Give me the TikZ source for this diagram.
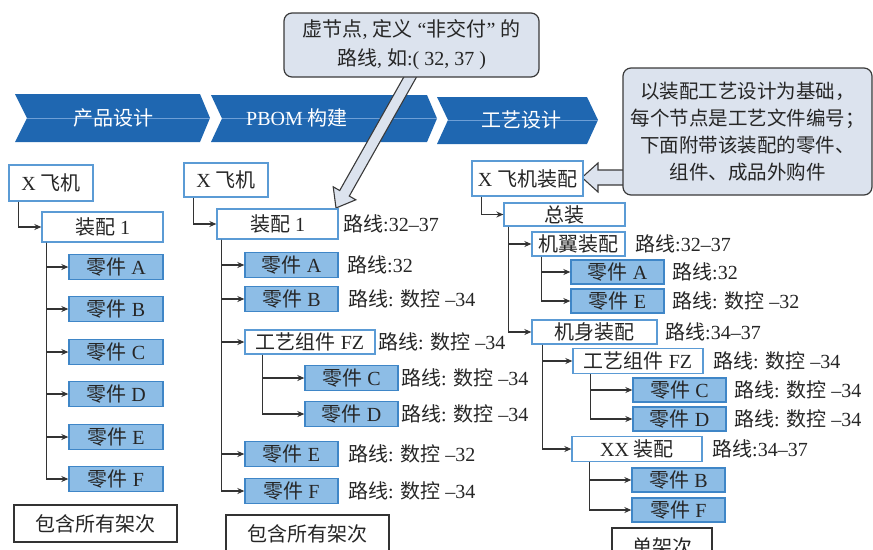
\documentclass[tikz,border=0pt]{standalone}
\usepackage{fontspec}
\setmainfont{Liberation Serif}
\newfontfamily\cjk{Noto Sans CJK SC}
\usetikzlibrary{arrows.meta}
\newcommand\zh[1]{{\cjk #1}}
\definecolor{chev}{HTML}{1F67B1}
\definecolor{chevline}{HTML}{6E9FD6}
\definecolor{boxblue}{HTML}{5B9BD5}
\definecolor{partfill}{HTML}{8DBDE6}
\definecolor{partdraw}{HTML}{3F86C7}
\definecolor{callfill}{HTML}{DCE3EE}
\definecolor{calldraw}{HTML}{3A3A3A}
\definecolor{txt}{HTML}{262626}
\definecolor{conn}{HTML}{333333}
\begin{document}
\begin{tikzpicture}[x=1pt,y=-1pt,
  font=\fontsize{20}{24}\selectfont,
  sz/.style 2 args={minimum width=#1pt, minimum height=#2pt},
  wbox/.style={draw=boxblue, line width=1.3pt, fill=white, inner sep=0pt, text=txt},
  pbox/.style={draw=partdraw, line width=1.3pt, fill=partfill, inner sep=0pt, text=txt},
  kbox/.style={draw=black!80, line width=1.2pt, fill=white, inner sep=0pt, text=txt},
  lbl/.style={anchor=west, inner sep=0pt, text=txt},
  arr/.style={draw=conn, line width=1.2pt, -{Stealth[length=7pt,width=6pt]}},
  chevron/.style={fill=chev},
  chevtext/.style={text=white, inner sep=0pt},
  callout/.style={draw=calldraw, fill=callfill, line width=1.2pt, rounded corners=8pt, inner sep=0pt, text=txt, align=center},
  hollow/.style={draw=calldraw, fill=callfill, line width=1.1pt, line join=miter},
]
\useasboundingbox (0,0) rectangle (873,549);
\clip (0,0) rectangle (873,549);

% chevrons
\fill[chevron] (15,94) -- (200,94) -- (210,118) -- (200,142) -- (15,142) -- (27,118) -- cycle;
\fill[chevron] (211,95) -- (427,95) -- (437,118.5) -- (427,142) -- (211,142) -- (222,118.5) -- cycle;
\fill[chevron] (437,97) -- (587,97) -- (598,120) -- (587,144) -- (437,144) -- (448,120) -- cycle;
\draw[chevline, line width=0.6pt] (27,118) -- (210,118);
\draw[chevline, line width=0.6pt] (222,118.5) -- (437,118.5);
\draw[chevline, line width=0.6pt] (448,120) -- (598,120);
\node[chevtext] (ch1) at (113,118) {\zh{产品设计}};
\node[chevtext] (ch2) at (297,118) {PBOM \zh{构建}};
\node[chevtext] (ch3) at (521,120) {\zh{工艺设计}};

% callout 1 with hollow arrow
\filldraw[hollow] (408.2,69.25) -- (339.7,190.55) -- (333.2,186.8) -- (336,208) -- (355.8,199.8) -- (349.3,196.05) -- (417.8,74.75) -- cycle;
\node[callout, sz={255}{64}, font=\fontsize{20}{29}\selectfont] (call1) at (411.5,45)
  {\zh{虚节点}, \zh{定义} “\zh{非交付}” \zh{的}\\\zh{路线}, \zh{如}:( 32, 37 )};

% callout 2 with hollow arrow
\filldraw[hollow] (628,170) -- (598,170) -- (598,163) -- (582,177.5) -- (598,192) -- (598,185) -- (628,185) -- cycle;
\node[callout, sz={249}{127}, font=\fontsize{19.5}{27}\selectfont] (call2) at (747.5,131.5)
  {\zh{以装配工艺设计为基础，}\\\zh{每个节点是工艺文件编号；}\\\zh{下面附带该装配的零件、}\\\zh{组件、成品外购件}};

% column 1
\node[wbox, sz={84}{36}] (a0) at (51,183) {X \zh{飞机}};
\node[wbox, sz={121}{30}] (a1) at (102.5,227) {\zh{装配} 1};
\node[pbox, sz={94}{25}] (aA) at (116,267) {\zh{零件} A};
\node[pbox, sz={94}{25}] (aB) at (116,309) {\zh{零件} B};
\node[pbox, sz={94}{25}] (aC) at (116,352) {\zh{零件} C};
\node[pbox, sz={94}{25}] (aD) at (116,394) {\zh{零件} D};
\node[pbox, sz={94}{25}] (aE) at (116,437) {\zh{零件} E};
\node[pbox, sz={94}{25}] (aF) at (116,479) {\zh{零件} F};
\node[kbox, sz={163}{37}] (an) at (95.5,523.5) {\zh{包含所有架次}};
\draw[arr] ([xshift=10pt]a0.south west) |- (a1.west);
\coordinate (at) at ([xshift=5pt]a1.south west);
\foreach \p in {aA,aB,aC,aD,aE,aF} \draw[arr] (at) |- (\p.west);

% column 2
\node[wbox, sz={84}{34}] (b0) at (226,180) {X \zh{飞机}};
\node[wbox, sz={121}{30}] (b1) at (277.5,224) {\zh{装配} 1};
\node[lbl] (b1l) at (343,224) {\zh{路线}:32–37};
\node[pbox, sz={93}{25}] (bA) at (291.5,265) {\zh{零件} A};
\node[lbl] (bAl) at (347,265) {\zh{路线}:32};
\node[pbox, sz={93}{25}] (bB) at (291.5,299) {\zh{零件} B};
\node[lbl] (bBl) at (348,299) {\zh{路线}: \zh{数控} –34};
\node[wbox, sz={130}{24}] (bFZ) at (310,342) {\zh{工艺组件} FZ};
\node[lbl] (bFZl) at (378,342) {\zh{路线}: \zh{数控} –34};
\node[pbox, sz={93}{25}] (bC) at (351.5,378) {\zh{零件} C};
\node[lbl] (bCl) at (401,378) {\zh{路线}: \zh{数控} –34};
\node[pbox, sz={93}{25}] (bD) at (351.5,414) {\zh{零件} D};
\node[lbl] (bDl) at (401,414) {\zh{路线}: \zh{数控} –34};
\node[pbox, sz={93}{25}] (bE) at (291.5,454) {\zh{零件} E};
\node[lbl] (bEl) at (348,454) {\zh{路线}: \zh{数控} –32};
\node[pbox, sz={93}{25}] (bF) at (291.5,491) {\zh{零件} F};
\node[lbl] (bFl) at (348,491) {\zh{路线}: \zh{数控} –34};
\node[kbox, sz={163}{37}] (bn) at (307.5,533.5) {\zh{包含所有架次}};
\draw[arr] ([xshift=10pt]b0.south west) |- (b1.west);
\coordinate (bt) at ([xshift=5pt]b1.south west);
\foreach \p in {bA,bB,bFZ,bE,bF} \draw[arr] (bt) |- (\p.west);
\coordinate (bs) at ([xshift=18pt]bFZ.south west);
\foreach \p in {bC,bD} \draw[arr] (bs) |- (\p.west);

% column 3
\node[wbox, sz={111}{35}] (c0) at (527.5,178.5) {X \zh{飞机装配}};
\node[wbox, sz={121}{23}] (c1) at (564.5,214.5) {\zh{总装}};
\node[wbox, sz={93}{24}] (cw) at (578.5,244) {\zh{机翼装配}};
\node[lbl] (cwl) at (635,244) {\zh{路线}:32–37};
\node[pbox, sz={93}{24}] (cA) at (617.5,272) {\zh{零件} A};
\node[lbl] (cAl) at (672,272) {\zh{路线}:32};
\node[pbox, sz={93}{24}] (cE) at (617.5,301) {\zh{零件} E};
\node[lbl] (cEl) at (672,301) {\zh{路线}: \zh{数控} –32};
\node[wbox, sz={125}{24}] (cb) at (594.5,332) {\zh{机身装配}};
\node[lbl] (cbl) at (665,332) {\zh{路线}:34–37};
\node[wbox, sz={130}{25}] (cFZ) at (638,361) {\zh{工艺组件} FZ};
\node[lbl] (cFZl) at (713,361) {\zh{路线}: \zh{数控} –34};
\node[pbox, sz={93}{24}] (cC) at (679.5,390) {\zh{零件} C};
\node[lbl] (cCl) at (734,390) {\zh{路线}: \zh{数控} –34};
\node[pbox, sz={93}{24}] (cD) at (679.5,419) {\zh{零件} D};
\node[lbl] (cDl) at (734,419) {\zh{路线}: \zh{数控} –34};
\node[wbox, sz={130}{25}] (cXX) at (637,449) {XX \zh{装配}};
\node[lbl] (cXXl) at (712,449) {\zh{路线}:34–37};
\node[pbox, sz={93}{24}] (cB) at (678.5,480) {\zh{零件} B};
\node[pbox, sz={93}{24}] (cF) at (678.5,510) {\zh{零件} F};
\node[kbox, sz={100}{37}] (cn) at (662,546.5) {\zh{单架次}};
\draw[arr] ([xshift=10pt]c0.south west) |- (c1.west);
\coordinate (ct) at ([xshift=5pt]c1.south west);
\foreach \p in {cw,cb} \draw[arr] (ct) |- (\p.west);
\coordinate (cwt) at ([xshift=10pt]cw.south west);
\foreach \p in {cA,cE} \draw[arr] (cwt) |- (\p.west);
\coordinate (cbt) at ([xshift=11pt]cb.south west);
\foreach \p in {cFZ,cXX} \draw[arr] (cbt) |- (\p.west);
\coordinate (cft) at ([xshift=18pt]cFZ.south west);
\foreach \p in {cC,cD} \draw[arr] (cft) |- (\p.west);
\coordinate (cxt) at ([xshift=18pt]cXX.south west);
\foreach \p in {cB,cF} \draw[arr] (cxt) |- (\p.west);
\end{tikzpicture}
\end{document}
